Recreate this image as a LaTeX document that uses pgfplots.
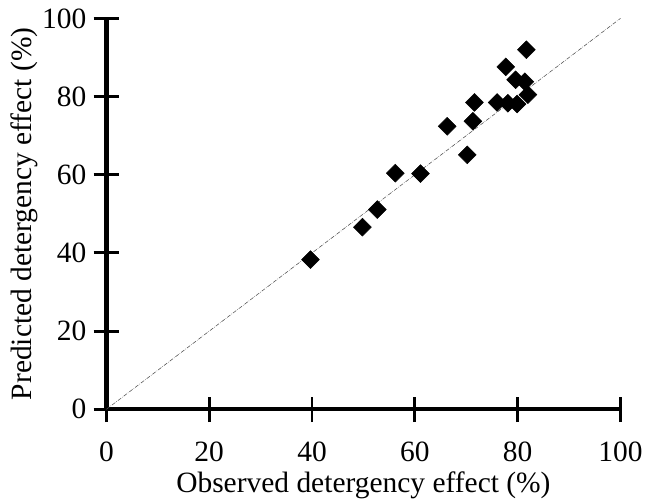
\documentclass[border={5pt 0pt 0pt 3pt}]{standalone}
\usepackage{pgfplots}
\pgfplotsset{compat=1.18}
\usepackage{fontspec}
\setmainfont{Liberation Serif}
\begin{document}
\begin{tikzpicture}
\begin{axis}[
  scale only axis, width=384pt, height=292pt,
  xmin=0, xmax=100, ymin=0, ymax=100,
  axis lines=left,
  axis line style={line width=3.2pt, -},
  tick align=center,
  major tick length=19pt,
  every tick/.append style={line width=2.2pt, black},
  xtick={0,20,40,60,80,100}, ytick={0,20,40,60,80,100},
  /pgf/number format/assume math mode=true,
  ticklabel style={font=\fontsize{22}{26}\selectfont},
  xticklabel shift=11pt,
  yticklabel shift=2pt,
  label style={font=\fontsize{22}{26}\selectfont},
  xlabel={Observed detergency effect (\%)},
  ylabel={Predicted detergency effect (\%)},
  xlabel style={at={(axis description cs:0.5,0)}, anchor=north, yshift=-43pt},
  ylabel style={yshift=-4pt},
  clip=false,
]
\addplot[black!70, line width=0.4pt, densely dashdotted] coordinates {(0,0) (100,100)};
\addplot[only marks, mark=square*, mark size=4.7pt, black, mark options={rotate=45, rounded corners=1.3pt}] coordinates {
(39.7,38.3) (49.8,46.6) (52.7,51.1) (56.2,60.4) (61.1,60.3) (70.2,65.1)
(66.3,72.4) (71.3,73.7) (71.6,78.5) (76.0,78.5) (78.1,78.3) (79.9,78.1)
(82.0,80.5) (81.4,83.8) (79.6,84.3) (77.7,87.6) (81.7,92.0)
};
\end{axis}
\end{tikzpicture}
\end{document}
